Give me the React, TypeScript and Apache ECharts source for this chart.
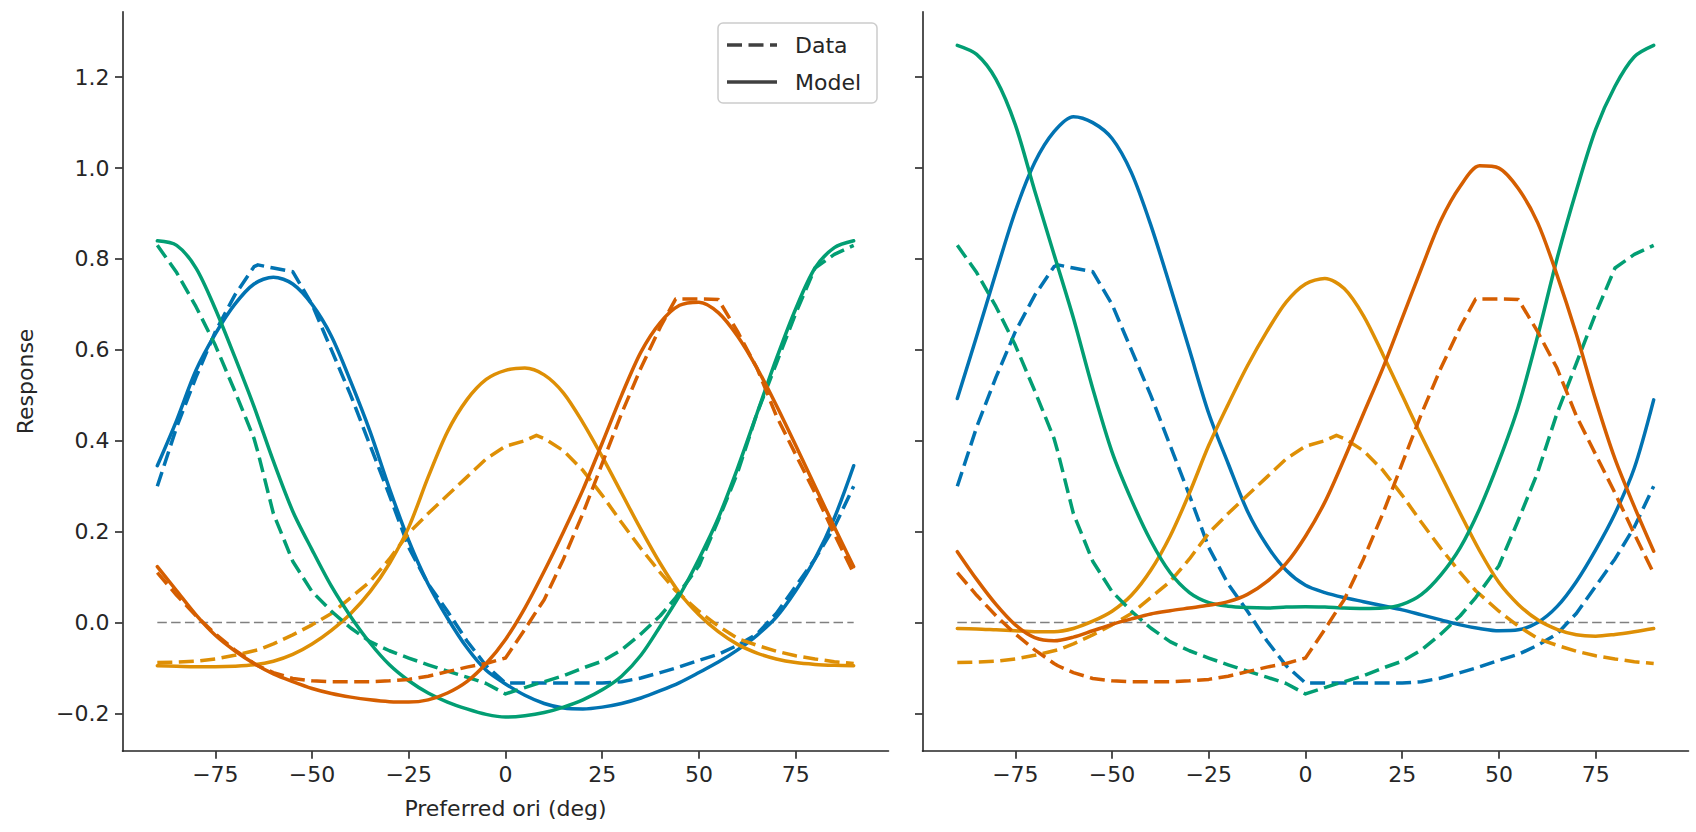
import React, { useEffect, useRef } from "react";
import * as echarts from "echarts";

const W = 1696;
const H = 832;

// ---------- data ----------
const xTicks = [-75, -50, -25, 0, 25, 50, 75];
const yTicks = [-0.2, 0, 0.2, 0.4, 0.6, 0.8, 1.0, 1.2];
const zeroLineX = [-90, 90];

const dataAngles = [-90, -85, -80, -75, -70, -65, -64, -60, -55, -50, -45, -40, -35, -30, -25, -20, -15, -10, -5, 0, 5, 8, 10, 15, 20, 25, 30, 35, 40, 44, 50, 55, 60, 65, 70, 75, 80, 85, 90];

const dataBlue = [0.30, 0.43, 0.54, 0.64, 0.72, 0.783, 0.787, 0.78, 0.772, 0.70, 0.60, 0.50, 0.39, 0.28, 0.165, 0.085, 0.025, -0.04, -0.095, -0.133, -0.133, -0.133, -0.133, -0.133, -0.133, -0.133, -0.13, -0.122, -0.11, -0.10, -0.083, -0.07, -0.05, -0.025, 0.02, 0.08, 0.14, 0.21, 0.30];
const dataOrange = [-0.088, -0.087, -0.085, -0.08, -0.072, -0.062, -0.06, -0.047, -0.027, -0.005, 0.02, 0.055, 0.09, 0.14, 0.197, 0.24, 0.28, 0.32, 0.36, 0.388, 0.40, 0.412, 0.405, 0.378, 0.335, 0.28, 0.22, 0.163, 0.11, 0.07, 0.025, -0.008, -0.035, -0.05, -0.063, -0.073, -0.08, -0.086, -0.09];
const dataGreen = [0.83, 0.77, 0.695, 0.61, 0.51, 0.405, 0.375, 0.24, 0.135, 0.068, 0.025, -0.012, -0.042, -0.062, -0.078, -0.093, -0.107, -0.12, -0.134, -0.157, -0.143, -0.135, -0.13, -0.117, -0.10, -0.085, -0.06, -0.025, 0.015, 0.055, 0.125, 0.225, 0.33, 0.46, 0.57, 0.68, 0.78, 0.81, 0.83];
const dataVermillion = [0.11, 0.06, 0.015, -0.025, -0.06, -0.09, -0.095, -0.11, -0.123, -0.128, -0.13, -0.13, -0.13, -0.128, -0.125, -0.118, -0.108, -0.098, -0.09, -0.078, -0.015, 0.025, 0.05, 0.14, 0.24, 0.35, 0.46, 0.56, 0.65, 0.712, 0.712, 0.711, 0.64, 0.56, 0.455, 0.37, 0.285, 0.195, 0.108];

const modelAngles = [-90, -85, -80, -75, -70, -65, -60, -55, -50, -45, -40, -35, -30, -25, -20, -15, -10, -5, 0, 5, 10, 15, 20, 25, 30, 35, 40, 45, 50, 55, 60, 65, 70, 75, 80, 85, 90];

// left panel models
const leftBlue = [0.345, 0.445, 0.555, 0.635, 0.70, 0.745, 0.76, 0.745, 0.70, 0.63, 0.53, 0.42, 0.295, 0.18, 0.085, 0.01, -0.055, -0.105, -0.135, -0.16, -0.178, -0.188, -0.19, -0.186, -0.178, -0.166, -0.15, -0.132, -0.11, -0.087, -0.06, -0.028, 0.012, 0.07, 0.14, 0.23, 0.345];
const leftOrange = [-0.095, -0.096, -0.097, -0.097, -0.096, -0.093, -0.085, -0.07, -0.047, -0.017, 0.02, 0.068, 0.13, 0.21, 0.32, 0.42, 0.49, 0.535, 0.555, 0.56, 0.545, 0.505, 0.44, 0.365, 0.285, 0.205, 0.13, 0.065, 0.017, -0.02, -0.048, -0.067, -0.08, -0.088, -0.092, -0.094, -0.095];
const leftGreen = [0.84, 0.83, 0.78, 0.69, 0.585, 0.475, 0.355, 0.245, 0.16, 0.08, 0.013, -0.045, -0.093, -0.128, -0.155, -0.175, -0.19, -0.202, -0.208, -0.205, -0.198, -0.186, -0.17, -0.148, -0.118, -0.072, -0.008, 0.06, 0.14, 0.23, 0.34, 0.46, 0.58, 0.69, 0.78, 0.825, 0.84];
const leftVermillion = [0.123, 0.07, 0.017, -0.028, -0.062, -0.09, -0.113, -0.13, -0.145, -0.156, -0.164, -0.17, -0.174, -0.175, -0.17, -0.155, -0.13, -0.09, -0.037, 0.032, 0.113, 0.20, 0.292, 0.395, 0.50, 0.595, 0.66, 0.698, 0.705, 0.682, 0.63, 0.56, 0.478, 0.39, 0.30, 0.21, 0.123];

// right panel models
const rightBlue = [0.493, 0.63, 0.77, 0.905, 1.012, 1.08, 1.113, 1.10, 1.065, 0.99, 0.875, 0.74, 0.6, 0.46, 0.35, 0.245, 0.17, 0.115, 0.082, 0.066, 0.055, 0.046, 0.037, 0.028, 0.017, 0.006, -0.005, -0.013, -0.018, -0.016, 0.0, 0.035, 0.09, 0.16, 0.24, 0.34, 0.49];
const rightOrange = [-0.013, -0.014, -0.016, -0.018, -0.02, -0.02, -0.013, 0.003, 0.025, 0.06, 0.115, 0.19, 0.285, 0.39, 0.48, 0.565, 0.64, 0.705, 0.745, 0.757, 0.735, 0.675, 0.59, 0.50, 0.41, 0.325, 0.24, 0.158, 0.088, 0.04, 0.006, -0.015, -0.027, -0.03, -0.026, -0.02, -0.013];
const rightGreen = [1.27, 1.25, 1.195, 1.095, 0.95, 0.81, 0.67, 0.515, 0.375, 0.27, 0.18, 0.11, 0.066, 0.044, 0.036, 0.033, 0.032, 0.034, 0.035, 0.034, 0.032, 0.031, 0.032, 0.04, 0.062, 0.105, 0.165, 0.25, 0.355, 0.475, 0.63, 0.80, 0.95, 1.085, 1.18, 1.245, 1.27];
const rightVermillion = [0.156, 0.095, 0.04, -0.005, -0.033, -0.04, -0.032, -0.018, -0.004, 0.008, 0.019, 0.026, 0.032, 0.038, 0.046, 0.062, 0.09, 0.13, 0.19, 0.265, 0.36, 0.46, 0.56, 0.67, 0.78, 0.885, 0.96, 1.005, 1.0, 0.955, 0.88, 0.765, 0.635, 0.49, 0.36, 0.255, 0.157];

// ---------- styles ----------
const COLORS = { blue: "#0173B2", orange: "#DE8F05", green: "#029E73", vermillion: "#D55E00" };
const FONT = "DejaVu Sans";
const INK = "#262626";
const LW = 3.5;
const DASH = [15, 6.5];

const fmt = (v: number) => {
  const s = Math.abs(v) < 1e-9 ? "0" : String(Math.round(v * 100) / 100);
  return s.replace("-", "\u2212");
};
const fmtY = (v: number) => {
  const s = (Math.abs(v) < 1e-9 ? 0 : v).toFixed(1);
  return s.replace("-", "\u2212");
};

const pairs = (xs: number[], ys: number[]) => xs.map((x, i) => [x, ys[i]]);

function lineSeries(idx: number, xs: number[], ys: number[], color: string, dashed: boolean, z: number) {
  return {
    type: "line",
    xAxisIndex: idx,
    yAxisIndex: idx,
    data: pairs(xs, ys),
    symbol: "none",
    showSymbol: false,
    smooth: dashed ? false : 0.3,
    lineStyle: { color, width: LW, type: dashed ? DASH : "solid", cap: dashed ? "butt" : "round", join: "round" },
    z,
    silent: true,
  };
}

function zeroSeries(idx: number) {
  return {
    type: "line",
    xAxisIndex: idx,
    yAxisIndex: idx,
    data: zeroLineX.map((x) => [x, 0]),
    symbol: "none",
    lineStyle: { color: "#808080", width: 1.6, type: [9.5, 4.3] },
    z: 1,
    silent: true,
  };
}

const gridTop = 11.7;
const gridH = 739.5;
const gridW = 766;

function xAxis(idx: number, withName: boolean) {
  return {
    type: "value",
    gridIndex: idx,
    min: -99,
    max: 99,
    name: withName ? "Preferred ori (deg)" : "",
    nameLocation: "middle",
    nameGap: 46,
    nameTextStyle: { fontSize: 22, fontFamily: FONT, color: INK },
    splitLine: { show: false },
    axisLine: { show: true, onZero: false, lineStyle: { color: INK, width: 1.6 } },
    axisTick: { show: true, length: 7.5, lineStyle: { color: INK, width: 1.6 }, customValues: xTicks },
    axisLabel: { show: true, customValues: xTicks, formatter: fmt, fontSize: 22, fontFamily: FONT, color: INK, margin: 12 },
  };
}

function yAxis(idx: number, withLabels: boolean) {
  return {
    type: "value",
    gridIndex: idx,
    min: -0.283,
    max: 1.344,
    name: withLabels ? "Response" : "",
    nameLocation: "middle",
    nameRotate: 90,
    nameGap: 86,
    nameTextStyle: { fontSize: 22, fontFamily: FONT, color: INK },
    splitLine: { show: false },
    axisLine: { show: true, onZero: false, lineStyle: { color: INK, width: 1.6 } },
    axisTick: { show: true, length: 7.5, lineStyle: { color: INK, width: 1.6 }, customValues: yTicks },
    axisLabel: { show: withLabels, customValues: yTicks, formatter: fmtY, fontSize: 22, fontFamily: FONT, color: INK, margin: 13 },
  };
}

function panelSeries(idx: number, models: number[][]) {
  const cols = [COLORS.blue, COLORS.orange, COLORS.green, COLORS.vermillion];
  const datas = [dataBlue, dataOrange, dataGreen, dataVermillion];
  const out: any[] = [zeroSeries(idx)];
  cols.forEach((c, i) => {
    out.push(lineSeries(idx, dataAngles, datas[i], c, true, 2 + i * 2));
    out.push(lineSeries(idx, modelAngles, models[i], c, false, 3 + i * 2));
  });
  return out;
}

const legendGraphic = {
  type: "group",
  children: [
    {
      type: "rect",
      shape: { x: 718, y: 23, width: 159, height: 80, r: 5 },
      style: { fill: "rgba(255,255,255,0.8)", stroke: "#cccccc", lineWidth: 1.5 },
      z: 100,
    },
    {
      type: "line",
      shape: { x1: 727, y1: 45, x2: 777, y2: 45 },
      style: { stroke: "#404040", lineWidth: LW, lineDash: DASH },
      z: 101,
    },
    {
      type: "line",
      shape: { x1: 727, y1: 82, x2: 777, y2: 82 },
      style: { stroke: "#404040", lineWidth: LW },
      z: 101,
    },
    {
      type: "text",
      style: { text: "Data", x: 795, y: 45, fontSize: 22, fontFamily: FONT, fill: INK, verticalAlign: "middle", align: "left" },
      z: 101,
    },
    {
      type: "text",
      style: { text: "Model", x: 795, y: 82, fontSize: 22, fontFamily: FONT, fill: INK, verticalAlign: "middle", align: "left" },
      z: 101,
    },
  ],
};

export default function App() {
  const ref = useRef<HTMLDivElement>(null);
  useEffect(() => {
    if (!ref.current) return;
    const chart = echarts.init(ref.current, null, { renderer: "svg", width: W, height: H });
    chart.setOption({
      animation: false,
      backgroundColor: "#ffffff",
      textStyle: { fontFamily: FONT },
      grid: [
        { left: 122.5, top: gridTop, width: gridW, height: gridH, containLabel: false },
        { left: 922.5, top: gridTop, width: gridW, height: gridH, containLabel: false },
      ],
      xAxis: [xAxis(0, true), xAxis(1, false)],
      yAxis: [yAxis(0, true), yAxis(1, false)],
      series: [
        ...panelSeries(0, [leftBlue, leftOrange, leftGreen, leftVermillion]),
        ...panelSeries(1, [rightBlue, rightOrange, rightGreen, rightVermillion]),
      ],
      graphic: [legendGraphic],
    });
    return () => chart.dispose();
  }, []);
  return <div ref={ref} style={{ position: "absolute", left: 0, top: 0, width: W, height: H }} />;
}
